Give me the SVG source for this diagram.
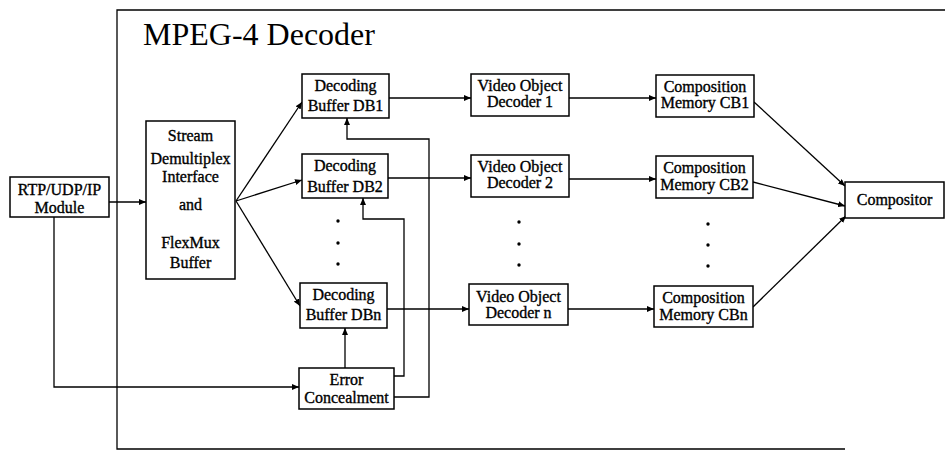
<svg xmlns="http://www.w3.org/2000/svg" width="946" height="451" viewBox="0 0 946 451">
  <style>
    .box { fill: #fff; stroke: #000; stroke-width: 1.5; }
    .lbl { font-family: 'Liberation Serif', Tinos, 'Times New Roman', 'DejaVu Serif', serif; font-size: 16px; fill: #000; stroke: #000; stroke-width: 0.35; text-anchor: middle; }
    .title { font-family: 'Liberation Serif', Tinos, 'Times New Roman', 'DejaVu Serif', serif; font-size: 32px; fill: #000; }
    .wire { fill: none; stroke: #000; stroke-width: 1.3; }
    .dot { fill: #000; }
  </style>
  <defs>
    <marker id="arrow" markerWidth="8" markerHeight="6" refX="7" refY="3" orient="auto" markerUnits="userSpaceOnUse">
      <path d="M0,0 L7,3 L0,6 z" fill="#000"/>
    </marker>
  </defs>
  <rect width="946" height="451" fill="#fff"/>

  <!-- decoder frame (open on the right) -->
  <g id="frame">
    <path class="wire" d="M945,10 H117 V449 H845" stroke-width="1.6"/>
    <text class="title" x="143" y="45">MPEG-4 Decoder</text>
  </g>

  <!-- connectors -->
  <g id="connectors" class="wire">
    <path d="M109,202 H146" marker-end="url(#arrow)"/>
    <path d="M54,217 V387 H299" marker-end="url(#arrow)"/>
    <path d="M236,201 L302,102" marker-end="url(#arrow)"/>
    <path d="M236,201 L302,180" marker-end="url(#arrow)"/>
    <path d="M236,201 L300,306" marker-end="url(#arrow)"/>
    <path d="M389,98 H471" marker-end="url(#arrow)"/>
    <path d="M388,178 H471" marker-end="url(#arrow)"/>
    <path d="M387,309 H469" marker-end="url(#arrow)"/>
    <path d="M569,98 H656" marker-end="url(#arrow)"/>
    <path d="M569,179 H656" marker-end="url(#arrow)"/>
    <path d="M568,309 H654" marker-end="url(#arrow)"/>
    <path d="M754,102 L845,186" marker-end="url(#arrow)"/>
    <path d="M753,182 L845,206" marker-end="url(#arrow)"/>
    <path d="M753,307 L846,216" marker-end="url(#arrow)"/>
    <path d="M345,368 V328" marker-end="url(#arrow)"/>
    <path d="M394,376 H404 V219 H363 V198" marker-end="url(#arrow)"/>
    <path d="M394,397 H429 V139 H347 V118" marker-end="url(#arrow)"/>
  </g>

  <!-- ellipsis dots between stream rows -->
  <g id="ellipsis">
    <circle class="dot" cx="338" cy="221" r="1.7"/>
    <circle class="dot" cx="338" cy="243" r="1.7"/>
    <circle class="dot" cx="338" cy="264" r="1.7"/>
    <circle class="dot" cx="519" cy="222" r="1.7"/>
    <circle class="dot" cx="519" cy="244" r="1.7"/>
    <circle class="dot" cx="519" cy="265" r="1.7"/>
    <circle class="dot" cx="708" cy="224" r="1.7"/>
    <circle class="dot" cx="708" cy="245" r="1.7"/>
    <circle class="dot" cx="708" cy="266" r="1.7"/>
  </g>

  <g id="rtp">
    <rect class="box" x="10" y="177" width="99" height="40"/>
    <text class="lbl" x="59.5" y="195">RTP/UDP/IP</text>
    <text class="lbl" x="59.5" y="213">Module</text>
  </g>

  <g id="demux">
    <rect class="box" x="146" y="121" width="89" height="158"/>
    <text class="lbl" x="190.5" y="141">Stream</text>
    <text class="lbl" x="190.5" y="164">Demultiplex</text>
    <text class="lbl" x="190.5" y="182">Interface</text>
    <text class="lbl" x="190.5" y="210">and</text>
    <text class="lbl" x="190.5" y="248">FlexMux</text>
    <text class="lbl" x="190.5" y="268">Buffer</text>
  </g>

  <g id="db1">
    <rect class="box" x="302" y="74" width="87" height="44"/>
    <text class="lbl" x="345.5" y="91">Decoding</text>
    <text class="lbl" x="345.5" y="111">Buffer DB1</text>
  </g>
  <g id="db2">
    <rect class="box" x="302" y="154" width="86" height="44"/>
    <text class="lbl" x="345" y="171">Decoding</text>
    <text class="lbl" x="345" y="192">Buffer DB2</text>
  </g>
  <g id="dbn">
    <rect class="box" x="300" y="283" width="87" height="45"/>
    <text class="lbl" x="343.5" y="300">Decoding</text>
    <text class="lbl" x="343.5" y="320">Buffer DBn</text>
  </g>

  <g id="concealment">
    <rect class="box" x="299" y="368" width="95" height="41"/>
    <text class="lbl" x="346.5" y="385">Error</text>
    <text class="lbl" x="346.5" y="403">Concealment</text>
  </g>

  <g id="vod1">
    <rect class="box" x="471" y="74" width="98" height="42"/>
    <text class="lbl" x="520" y="91">Video Object</text>
    <text class="lbl" x="520" y="107">Decoder 1</text>
  </g>
  <g id="vod2">
    <rect class="box" x="471" y="155" width="98" height="42"/>
    <text class="lbl" x="520" y="172">Video Object</text>
    <text class="lbl" x="520" y="188">Decoder 2</text>
  </g>
  <g id="vodn">
    <rect class="box" x="469" y="284" width="99" height="41"/>
    <text class="lbl" x="518.5" y="302">Video Object</text>
    <text class="lbl" x="518.5" y="318">Decoder n</text>
  </g>

  <g id="cb1">
    <rect class="box" x="656" y="75" width="98" height="42"/>
    <text class="lbl" x="705" y="92">Composition</text>
    <text class="lbl" x="705" y="108">Memory CB1</text>
  </g>
  <g id="cb2">
    <rect class="box" x="656" y="156" width="97" height="42"/>
    <text class="lbl" x="704.5" y="173">Composition</text>
    <text class="lbl" x="704.5" y="190">Memory CB2</text>
  </g>
  <g id="cbn">
    <rect class="box" x="654" y="286" width="99" height="41"/>
    <text class="lbl" x="703.5" y="303">Composition</text>
    <text class="lbl" x="703.5" y="320">Memory CBn</text>
  </g>

  <g id="compositor">
    <rect class="box" x="845" y="182" width="99" height="36"/>
    <text class="lbl" x="894.5" y="205">Compositor</text>
  </g>
</svg>
